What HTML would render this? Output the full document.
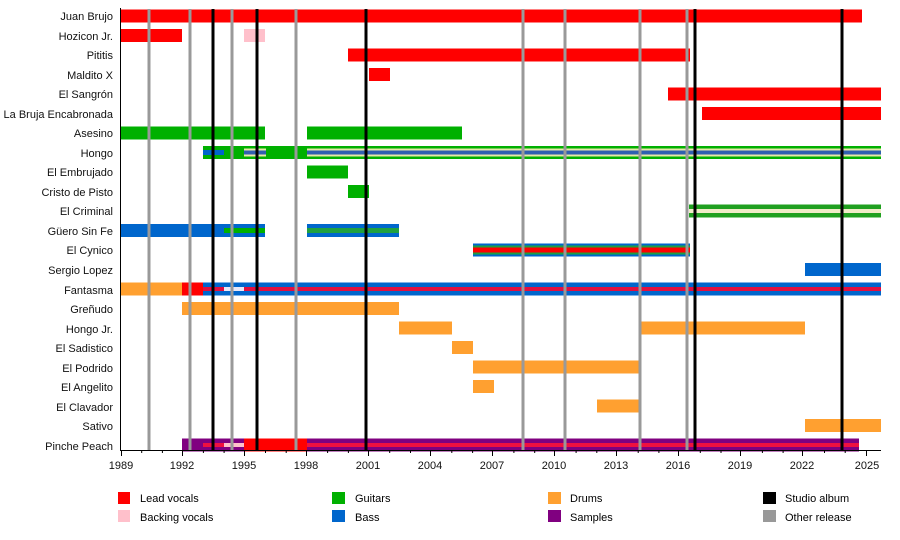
<!DOCTYPE html>
<html><head><style>body{margin:0;background:#fff}svg{display:block;font-family:"Liberation Sans",sans-serif;font-size:11px}</style></head><body>
<svg width="900" height="540" viewBox="0 0 900 540">
<g text-anchor="end" fill="#111">
<text x="113" y="20">Juan Brujo</text><text x="113" y="40">Hozicon Jr.</text><text x="113" y="59">Pititis</text><text x="113" y="79">Maldito X</text><text x="113" y="98">El Sangrón</text><text x="113" y="118">La Bruja Encabronada</text><text x="113" y="137">Asesino</text><text x="113" y="157">Hongo</text><text x="113" y="176">El Embrujado</text><text x="113" y="196">Cristo de Pisto</text><text x="113" y="215">El Criminal</text><text x="113" y="235">Güero Sin Fe</text><text x="113" y="254">El Cynico</text><text x="113" y="274">Sergio Lopez</text><text x="113" y="294">Fantasma</text><text x="113" y="313">Greñudo</text><text x="113" y="333">Hongo Jr.</text><text x="113" y="352">El Sadistico</text><text x="113" y="372">El Podrido</text><text x="113" y="391">El Angelito</text><text x="113" y="411">El Clavador</text><text x="113" y="430">Sativo</text><text x="113" y="450">Pinche Peach</text>
</g>
<g>
<rect x="121" y="9.5" width="741" height="13" fill="#f00"/>
<rect x="121" y="29" width="61" height="13" fill="#f00"/><rect x="244" y="29" width="21" height="13" fill="#ffc0cb"/>
<rect x="348" y="48.5" width="342" height="13" fill="#f00"/>
<rect x="369" y="68" width="21" height="13" fill="#f00"/>
<rect x="668" y="87.5" width="213" height="13" fill="#f00"/>
<rect x="702" y="107" width="179" height="13" fill="#f00"/>
<rect x="121" y="126.5" width="144" height="13" fill="#00b000"/><rect x="307" y="126.5" width="155" height="13" fill="#00b000"/>
<rect x="203" y="146" width="678" height="13" fill="#00b000"/>
<rect x="203" y="150" width="21" height="5" fill="#0066cc"/>
<rect x="244" y="148.5" width="22" height="8" fill="#e8e8a8"/><rect x="244" y="150.5" width="22" height="4" fill="#3060b0"/>
<rect x="307" y="148.5" width="574" height="8" fill="#e8e8a8"/><rect x="307" y="150.5" width="574" height="4" fill="#3060b0"/>
<rect x="307" y="165.5" width="41" height="13" fill="#00b000"/>
<rect x="348" y="185" width="21" height="13" fill="#00b000"/>
<rect x="689" y="204.5" width="192" height="13" fill="#20a020"/><rect x="689" y="209" width="192" height="4" fill="#f0ecc8"/>
<rect x="121" y="224" width="144" height="13" fill="#0066cc"/><rect x="224" y="228" width="41" height="5" fill="#00b000"/>
<rect x="307" y="224" width="92" height="13" fill="#0066cc"/><rect x="307" y="228" width="92" height="5" fill="#20a040"/>
<rect x="473" y="243.5" width="217" height="13" fill="#0066cc"/><rect x="473" y="245.5" width="217" height="9" fill="#20a040"/><rect x="473" y="247.5" width="217" height="5" fill="#f00"/>
<rect x="805" y="263" width="76" height="13" fill="#0066cc"/>
<rect x="121" y="282.5" width="61" height="13" fill="#ffa030"/><rect x="182" y="282.5" width="21" height="13" fill="#f00"/>
<rect x="203" y="282.5" width="678" height="13" fill="#0066cc"/><rect x="203" y="287" width="678" height="4" fill="#e01040"/><rect x="224" y="287" width="20" height="4" fill="#e8e8f8"/>
<rect x="182" y="302" width="217" height="13" fill="#ffa030"/>
<rect x="399" y="321.5" width="53" height="13" fill="#ffa030"/><rect x="640" y="321.5" width="165" height="13" fill="#ffa030"/>
<rect x="452" y="341" width="21" height="13" fill="#ffa030"/>
<rect x="473" y="360.5" width="167" height="13" fill="#ffa030"/>
<rect x="473" y="380" width="21" height="13" fill="#ffa030"/>
<rect x="597" y="399.5" width="43" height="13" fill="#ffa030"/>
<rect x="805" y="419" width="76" height="13" fill="#ffa030"/>
<rect x="182" y="438.5" width="677" height="13" fill="#800080"/><rect x="203" y="443" width="656" height="4" fill="#f01040"/><rect x="224" y="443" width="20" height="4" fill="#ffc0cb"/><rect x="244" y="438.5" width="63" height="13" fill="#f00"/>
</g>
<g stroke="#999" stroke-width="3">
<line x1="149" y1="9" x2="149" y2="450"/><line x1="190" y1="9" x2="190" y2="450"/><line x1="232" y1="9" x2="232" y2="450"/><line x1="296" y1="9" x2="296" y2="450"/><line x1="523" y1="9" x2="523" y2="450"/><line x1="565" y1="9" x2="565" y2="450"/><line x1="640" y1="9" x2="640" y2="450"/><line x1="687" y1="9" x2="687" y2="450"/>
</g>
<g stroke="#000" stroke-width="3">
<line x1="213" y1="9" x2="213" y2="450"/><line x1="257" y1="9" x2="257" y2="450"/><line x1="366" y1="9" x2="366" y2="450"/><line x1="695" y1="9" x2="695" y2="450"/><line x1="842" y1="9" x2="842" y2="450"/>
</g>
<g stroke="#000" stroke-width="1">
<line x1="120.5" y1="8" x2="120.5" y2="450"/><line x1="120" y1="450.5" x2="881" y2="450.5"/>
<path d="M121.5 450v6M141.7 450v3M162.4 450v3M182.5 450v6M203.4 450v3M224.1 450v3M244.5 450v6M265.5 450v3M286.2 450v3M306.5 450v6M327.6 450v3M348.4 450v3M368.5 450v6M389.7 450v3M410.5 450v3M430.5 450v6M451.8 450v3M472.6 450v3M492.5 450v6M513.9 450v3M534.7 450v3M554.5 450v6M576.1 450v3M596.8 450v3M616.5 450v6M638.2 450v3M658.9 450v3M678.5 450v6M700.3 450v3M721 450v3M740.5 450v6M762.4 450v3M783.1 450v3M802.5 450v6M824.5 450v3M845.2 450v3M866.5 450v6"/>
</g>
<g text-anchor="middle" fill="#111">
<text x="121" y="469">1989</text><text x="182" y="469">1992</text><text x="244" y="469">1995</text><text x="306" y="469">1998</text><text x="368" y="469">2001</text><text x="430" y="469">2004</text><text x="492" y="469">2007</text><text x="554" y="469">2010</text><text x="616" y="469">2013</text><text x="678" y="469">2016</text><text x="740" y="469">2019</text><text x="802" y="469">2022</text><text x="867" y="469">2025</text>
</g>
<rect x="118" y="492" width="12" height="12" fill="#f00"/><text x="140" y="502">Lead vocals</text>
<rect x="118" y="510" width="12" height="12" fill="#ffc0cb"/><text x="140" y="521">Backing vocals</text>
<rect x="332" y="492" width="13" height="12" fill="#00b000"/><text x="355" y="502">Guitars</text>
<rect x="332" y="510" width="13" height="12" fill="#0066cc"/><text x="355" y="521">Bass</text>
<rect x="548" y="492" width="13" height="12" fill="#ffa030"/><text x="570" y="502">Drums</text>
<rect x="548" y="510" width="13" height="12" fill="#800080"/><text x="570" y="521">Samples</text>
<rect x="763" y="492" width="13" height="12" fill="#000"/><text x="785" y="502">Studio album</text>
<rect x="763" y="510" width="13" height="12" fill="#999"/><text x="785" y="521">Other release</text>
</svg>
</body></html>
